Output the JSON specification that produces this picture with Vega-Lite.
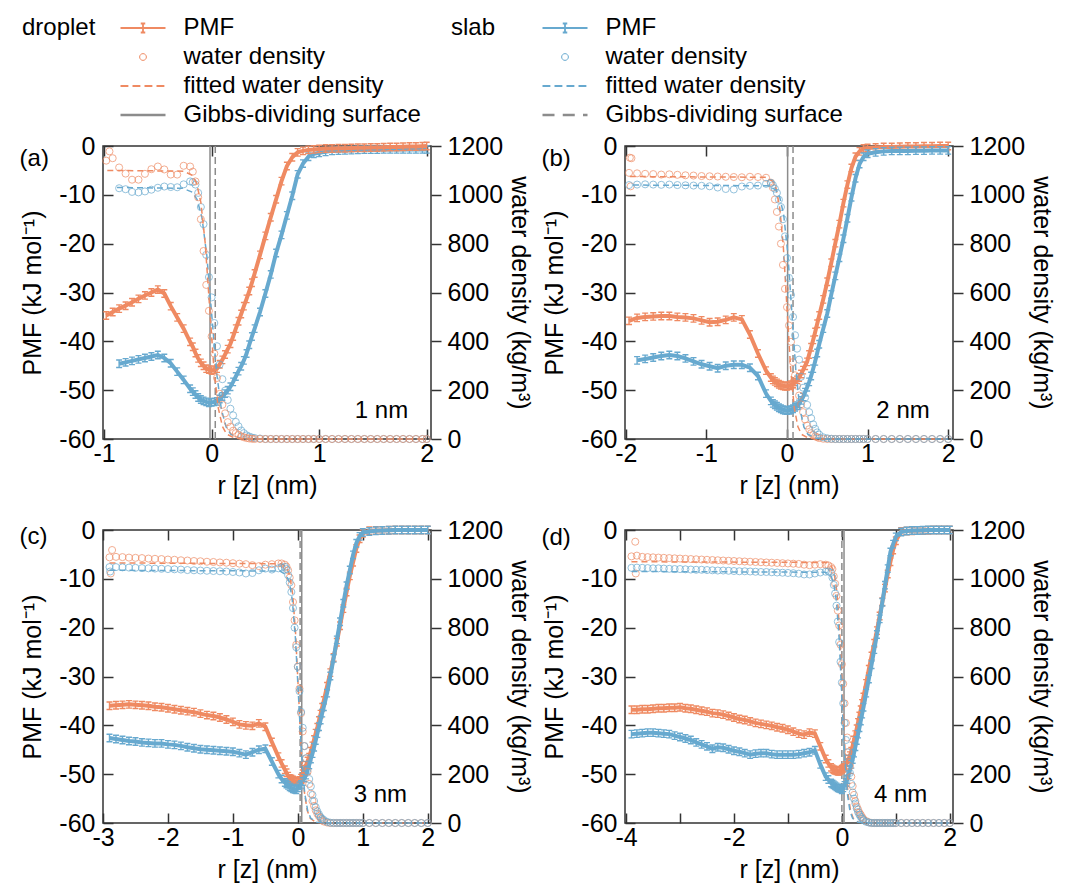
{
"$schema": "https://vega.github.io/schema/vega-lite/v6.json",
"background": "white",
"padding": {"left": 18, "top": 15, "right": 5, "bottom": 5},
"config": {
 "font": "Liberation Sans",
 "view": {"stroke": "#333333", "strokeWidth": 1.5},
 "axis": {"grid": false, "domain": false, "labelFontSize": 25, "titleFontSize": 25, "titleFontWeight": "normal", "labelColor": "#000", "titleColor": "#000", "tickColor": "#333", "tickWidth": 1.5, "labelFont": "Liberation Sans", "titleFont": "Liberation Sans"},
 "legend": {"labelFont": "Liberation Sans", "titleFont": "Liberation Sans", "labelColor": "#000", "titleColor": "#000"},
 "text": {"font": "Liberation Sans", "color": "#000"}
},
"datasets": {
 "gibbs": [{"p":"a","g":"d","x":-0.015},{"p":"a","g":"s","x":0.034},{"p":"b","g":"d","x":0.008},{"p":"b","g":"s","x":0.075},{"p":"c","g":"d","x":0.06},{"p":"c","g":"s","x":0.035},{"p":"d","g":"d","x":0.04},{"p":"d","g":"s","x":0.0}],
 "a": [
  {"x":-0.98,"dp":-34.7,"dd":1140},{"x":-0.95,"dd":1178},{"x":-0.92,"dp":-34.0,"dd":1150},
  {"x":-0.86,"dp":-33.3,"sp":-44.6,"dd":1112,"sd":1027},{"x":-0.8,"dp":-32.7,"sp":-44.3,"dd":1087,"sd":1023},
  {"x":-0.74,"dp":-32.0,"sp":-44.0,"dd":1062,"sd":1012},{"x":-0.68,"dp":-31.3,"sp":-43.7,"dd":1062,"sd":1010},
  {"x":-0.62,"dp":-30.6,"sp":-43.4,"dd":1086,"sd":1014},{"x":-0.56,"dp":-30.0,"sp":-43.1,"dd":1105,"sd":1021},
  {"x":-0.5,"dp":-29.4,"sp":-42.8,"dd":1116,"sd":1029},{"x":-0.44,"dp":-30.2,"sp":-43.4,"dd":1104,"sd":1034},
  {"x":-0.38,"dp":-32.8,"sp":-44.5,"dd":1083,"sd":1032},{"x":-0.32,"dp":-35.1,"sp":-46.2,"dd":1083,"sd":1031},
  {"x":-0.26,"dp":-37.4,"sp":-47.9,"dd":1119,"sd":1043},{"x":-0.2,"dp":-40.1,"sp":-49.7,"dd":1116,"sd":1055},
  {"x":-0.175,"dp":-41.1,"sp":-50.3,"dd":1095,"sd":1052},{"x":-0.15,"dp":-42.4,"sp":-50.9,"dd":1055,"sd":1042},
  {"x":-0.125,"dp":-43.5,"sp":-51.5,"dd":990,"sd":1008},{"x":-0.1,"dp":-44.4,"sp":-51.9,"dd":900,"sd":950},
  {"x":-0.075,"dp":-45.0,"sp":-52.2,"dd":770,"sd":880},{"x":-0.05,"dp":-45.6,"sp":-52.4,"dd":631,"sd":754},
  {"x":-0.025,"dp":-45.8,"sp":-52.6,"dd":525,"sd":663},{"x":0,"dp":-46.0,"sp":-52.5,"dd":420,"sd":580},
  {"x":0.025,"dp":-45.8,"sp":-52.4,"dd":350,"sd":475},{"x":0.05,"dp":-45.6,"sp":-52.3,"dd":250,"sd":380},
  {"x":0.075,"dp":-44.7,"sp":-51.8,"dd":185,"sd":305},{"x":0.1,"dp":-43.8,"sp":-51.3,"dd":140,"sd":245},
  {"x":0.125,"dp":-42.7,"sp":-50.7,"dd":105,"sd":198},{"x":0.15,"dp":-41.6,"sp":-50.0,"dd":69,"sd":160},
  {"x":0.175,"dp":-40.5,"sp":-49.3,"dd":50,"sd":124},{"x":0.2,"dp":-39.0,"sp":-48.3,"dd":34,"sd":97},
  {"x":0.225,"dp":-37.4,"sp":-47.2,"dd":24,"sd":70},{"x":0.25,"dp":-35.9,"sp":-46.1,"dd":17,"sd":52},
  {"x":0.275,"dp":-34.4,"sp":-45.1,"dd":11,"sd":35},{"x":0.3,"dp":-32.8,"sp":-43.9,"dd":7,"sd":24},
  {"x":0.325,"dp":-31.3,"sp":-42.5,"dd":4,"sd":15},{"x":0.35,"dp":-29.7,"sp":-40.7,"dd":2,"sd":10},
  {"x":0.375,"dp":-28.0,"sp":-39.0,"dd":1,"sd":6},{"x":0.4,"dp":-26.1,"sp":-37.4,"dd":0,"sd":4},
  {"x":0.45,"dp":-22.3,"sp":-34.0,"dd":0,"sd":2},{"x":0.5,"dp":-18.4,"sp":-30.2,"dd":0,"sd":0},
  {"x":0.55,"dp":-14.6,"sp":-26.3,"dd":0,"sd":0},{"x":0.6,"dp":-10.9,"sp":-21.9,"dd":0,"sd":0},
  {"x":0.65,"dp":-7.2,"sp":-18.2,"dd":0,"sd":0},{"x":0.7,"dp":-4.1,"sp":-14.2,"dd":0,"sd":0},
  {"x":0.75,"dp":-2.3,"sp":-10.2,"dd":0,"sd":0},{"x":0.8,"dp":-1.3,"sp":-5.8,"dd":0,"sd":0},
  {"x":0.85,"dp":-1.0,"sp":-3.6,"dd":0,"sd":0},{"x":0.9,"dp":-0.8,"sp":-2.2,"dd":0,"sd":0},
  {"x":0.95,"dp":-0.7,"sp":-1.6,"dd":0,"sd":0},{"x":1.0,"dp":-0.6,"sp":-1.4,"dd":0,"sd":0},
  {"x":1.06,"dp":-0.5,"sp":-1.2,"dd":0,"sd":0},{"x":1.12,"dp":-0.5,"sp":-1.0,"dd":0,"sd":0},
  {"x":1.18,"dp":-0.45,"sp":-0.95,"dd":0,"sd":0},{"x":1.24,"dp":-0.45,"sp":-0.9,"dd":0,"sd":0},
  {"x":1.3,"dp":-0.4,"sp":-0.85,"dd":0,"sd":0},{"x":1.36,"dp":-0.35,"sp":-0.8,"dd":0,"sd":0},
  {"x":1.42,"dp":-0.35,"sp":-0.75,"dd":0,"sd":0},{"x":1.48,"dp":-0.3,"sp":-0.75,"dd":0,"sd":0},
  {"x":1.54,"dp":-0.3,"sp":-0.75,"dd":0,"sd":0},{"x":1.6,"dp":-0.25,"sp":-0.7,"dd":0,"sd":0},
  {"x":1.66,"dp":-0.2,"sp":-0.7,"dd":0,"sd":0},{"x":1.72,"dp":-0.2,"sp":-0.7,"dd":0,"sd":0},
  {"x":1.78,"dp":-0.15,"sp":-0.7,"dd":0,"sd":0},{"x":1.84,"dp":-0.1,"sp":-0.7,"dd":0,"sd":0},
  {"x":1.9,"dp":-0.1,"sp":-0.7,"dd":0,"sd":0},{"x":1.96,"dp":-0.05,"sp":-0.7,"dd":0,"sd":0},
  {"x":2.0,"dp":0,"sp":-0.7,"dd":0,"sd":0}
 ],
 "b": [
  {"x":-1.96,"dp":-35.8,"dd":1090,"sd":1040},{"x":-1.95,"dd":1152},{"x":-1.94,"dd":1035},{"x":-1.93,"dd":1150},
  {"x":-1.86,"dp":-35.2,"sp":-43.9,"dd":1088,"sd":1042},{"x":-1.76,"dp":-35.0,"sp":-43.6,"dd":1086,"sd":1043},
  {"x":-1.66,"dp":-34.9,"sp":-43.3,"dd":1085,"sd":1042},{"x":-1.56,"dp":-34.8,"sp":-43.0,"dd":1083,"sd":1041},
  {"x":-1.46,"dp":-34.8,"sp":-42.8,"dd":1084,"sd":1042},{"x":-1.36,"dp":-35.0,"sp":-43.0,"dd":1082,"sd":1040},
  {"x":-1.26,"dp":-35.1,"sp":-43.5,"dd":1080,"sd":1039},{"x":-1.16,"dp":-35.3,"sp":-44.1,"dd":1079,"sd":1038},
  {"x":-1.06,"dp":-35.7,"sp":-44.7,"dd":1077,"sd":1037},{"x":-0.96,"dp":-36.1,"sp":-45.1,"dd":1076,"sd":1035},
  {"x":-0.86,"dp":-36.0,"sp":-45.5,"dd":1075,"sd":1030},{"x":-0.76,"dp":-35.6,"sp":-45.0,"dd":1074,"sd":1024},
  {"x":-0.66,"dp":-35.1,"sp":-44.8,"dd":1073,"sd":1022},{"x":-0.56,"dp":-35.5,"sp":-44.8,"dd":1072,"sd":1034},
  {"x":-0.46,"dp":-38.6,"sp":-45.4,"dd":1074,"sd":1037},{"x":-0.36,"dp":-42.5,"sp":-47.1,"dd":1073,"sd":1038},
  {"x":-0.26,"dp":-46.0,"sp":-50.7,"dd":1070,"sd":1045},{"x":-0.2,"dp":-47.4,"sp":-52.2,"dd":1050,"sd":1049},
  {"x":-0.175,"dp":-47.9,"sp":-52.7,"dd":1030,"sd":1040},{"x":-0.15,"dp":-48.2,"sp":-53.0,"dd":981,"sd":1025},
  {"x":-0.125,"dp":-48.5,"sp":-53.3,"dd":930,"sd":1008},{"x":-0.1,"dp":-48.8,"sp":-53.6,"dd":870,"sd":980},
  {"x":-0.075,"dp":-49.0,"sp":-53.8,"dd":800,"sd":950},{"x":-0.05,"dp":-49.1,"sp":-54.0,"dd":713,"sd":900},
  {"x":-0.025,"dp":-49.2,"sp":-54.1,"dd":615,"sd":830},{"x":0,"dp":-49.2,"sp":-54.2,"dd":540,"sd":741},
  {"x":0.025,"dp":-49.1,"sp":-54.1,"dd":465,"sd":660},{"x":0.05,"dp":-48.9,"sp":-54.0,"dd":398,"sd":590},
  {"x":0.075,"dp":-48.7,"sp":-53.8,"dd":315,"sd":500},{"x":0.1,"dp":-48.3,"sp":-53.5,"dd":261,"sd":425},
  {"x":0.125,"dp":-47.9,"sp":-53.2,"dd":218,"sd":370},{"x":0.15,"dp":-47.4,"sp":-52.8,"dd":178,"sd":325},
  {"x":0.175,"dp":-46.7,"sp":-52.1,"dd":142,"sd":255},{"x":0.2,"dp":-45.9,"sp":-51.4,"dd":110,"sd":210},
  {"x":0.225,"dp":-45.0,"sp":-50.4,"dd":80,"sd":170},{"x":0.25,"dp":-44.2,"sp":-49.4,"dd":55,"sd":140},
  {"x":0.275,"dp":-42.7,"sp":-48.3,"dd":40,"sd":110},{"x":0.3,"dp":-41.2,"sp":-47.1,"dd":24,"sd":85},
  {"x":0.325,"dp":-39.7,"sp":-45.6,"dd":16,"sd":60},{"x":0.35,"dp":-38.1,"sp":-44.1,"dd":11,"sd":42},
  {"x":0.375,"dp":-36.4,"sp":-42.4,"dd":7,"sd":27},{"x":0.4,"dp":-34.7,"sp":-40.6,"dd":4,"sd":18},
  {"x":0.45,"dp":-31.4,"sp":-37.4,"dd":1,"sd":7},{"x":0.5,"dp":-27.8,"sp":-34.3,"dd":0,"sd":3},
  {"x":0.55,"dp":-23.9,"sp":-30.4,"dd":0,"sd":1},{"x":0.6,"dp":-19.9,"sp":-26.6,"dd":0,"sd":0},
  {"x":0.65,"dp":-16.0,"sp":-22.9,"dd":0,"sd":0},{"x":0.7,"dp":-11.7,"sp":-19.0,"dd":0,"sd":0},
  {"x":0.75,"dp":-7.9,"sp":-14.8,"dd":0,"sd":0},{"x":0.8,"dp":-4.5,"sp":-10.5,"dd":0,"sd":0},
  {"x":0.85,"dp":-2.2,"sp":-6.6,"dd":0,"sd":0},{"x":0.9,"dp":-1.1,"sp":-3.7,"dd":0,"sd":0},
  {"x":0.95,"dp":-0.5,"sp":-2.2,"dd":0,"sd":0},{"x":1.0,"dp":-0.4,"sp":-1.6,"dd":0,"sd":0},
  {"x":1.1,"dp":-0.3,"sp":-1.3,"dd":0,"sd":0},{"x":1.2,"dp":-0.2,"sp":-1.1,"dd":0,"sd":0},
  {"x":1.3,"dp":-0.2,"sp":-1.0,"dd":0,"sd":0},{"x":1.4,"dp":-0.15,"sp":-1.0,"dd":0,"sd":0},
  {"x":1.5,"dp":-0.1,"sp":-1.0,"dd":0,"sd":0},{"x":1.6,"dp":-0.1,"sp":-0.95,"dd":0,"sd":0},
  {"x":1.7,"dp":-0.05,"sp":-0.95,"dd":0,"sd":0},{"x":1.8,"dp":-0.05,"sp":-0.9,"dd":0,"sd":0},
  {"x":1.9,"dp":0,"sp":-0.9,"dd":0,"sd":0},{"x":2.0,"dp":0,"sp":-0.9,"dd":0,"sd":0}
 ],
 "c": [
  {"x":-2.9,"dp":-36.0,"sp":-42.6,"dd":1088,"sd":1048},{"x":-2.89,"sd":1030},{"x":-2.88,"dd":1022},{"x":-2.86,"dd":1118},
  {"x":-2.8,"dp":-35.9,"sp":-42.8,"dd":1090,"sd":1048},{"x":-2.7,"dp":-35.8,"sp":-43.0,"dd":1089,"sd":1047},
  {"x":-2.6,"dp":-35.7,"sp":-43.2,"dd":1087,"sd":1046},{"x":-2.5,"dp":-35.8,"sp":-43.3,"dd":1086,"sd":1045},
  {"x":-2.4,"dp":-35.9,"sp":-43.5,"dd":1085,"sd":1044},{"x":-2.3,"dp":-36.0,"sp":-43.6,"dd":1083,"sd":1043},
  {"x":-2.2,"dp":-36.2,"sp":-43.7,"dd":1082,"sd":1042},{"x":-2.1,"dp":-36.3,"sp":-43.7,"dd":1081,"sd":1041},
  {"x":-2.0,"dp":-36.5,"sp":-43.9,"dd":1079,"sd":1040},{"x":-1.9,"dp":-36.7,"sp":-44.0,"dd":1078,"sd":1039},
  {"x":-1.8,"dp":-36.9,"sp":-44.2,"dd":1076,"sd":1038},{"x":-1.7,"dp":-37.1,"sp":-44.5,"dd":1075,"sd":1036},
  {"x":-1.6,"dp":-37.3,"sp":-44.7,"dd":1073,"sd":1035},{"x":-1.5,"dp":-37.6,"sp":-44.9,"dd":1072,"sd":1034},
  {"x":-1.4,"dp":-37.9,"sp":-45.0,"dd":1070,"sd":1033},{"x":-1.3,"dp":-38.1,"sp":-45.1,"dd":1069,"sd":1032},
  {"x":-1.2,"dp":-38.4,"sp":-45.2,"dd":1067,"sd":1031},{"x":-1.1,"dp":-38.8,"sp":-45.3,"dd":1066,"sd":1030},
  {"x":-1.0,"dp":-39.3,"sp":-45.4,"dd":1064,"sd":1028},{"x":-0.9,"dp":-39.8,"sp":-45.7,"dd":1062,"sd":1026},
  {"x":-0.8,"dp":-40.0,"sp":-46.0,"dd":1060,"sd":1022},{"x":-0.7,"dp":-40.1,"sp":-45.5,"dd":1056,"sd":1024},
  {"x":-0.6,"dp":-39.6,"sp":-45.0,"dd":1052,"sd":1035},{"x":-0.5,"dp":-40.3,"sp":-44.8,"dd":1058,"sd":1042},
  {"x":-0.4,"dp":-43.4,"sp":-47.4,"dd":1060,"sd":1038},{"x":-0.3,"dp":-46.4,"sp":-50.0,"dd":1063,"sd":1043},
  {"x":-0.25,"dp":-47.8,"sp":-51.0,"dd":1063,"sd":1047},{"x":-0.2,"dp":-49.1,"sp":-51.7,"dd":1058,"sd":1049},
  {"x":-0.175,"dp":-49.7,"sp":-52.0,"dd":1050,"sd":1040},{"x":-0.15,"dp":-50.4,"sp":-52.3,"dd":1035,"sd":1015},
  {"x":-0.125,"dp":-50.9,"sp":-52.6,"dd":1005,"sd":985},{"x":-0.1,"dp":-51.0,"sp":-52.8,"dd":974,"sd":946},
  {"x":-0.075,"dp":-51.2,"sp":-53.0,"dd":905,"sd":880},{"x":-0.05,"dp":-51.4,"sp":-53.1,"dd":830,"sd":800},
  {"x":-0.025,"dp":-51.6,"sp":-53.2,"dd":730,"sd":720},{"x":0,"dp":-51.5,"sp":-52.8,"dd":640,"sd":640},
  {"x":0.025,"dp":-51.3,"sp":-52.4,"dd":550,"sd":540},{"x":0.05,"dp":-50.8,"sp":-52.1,"dd":450,"sd":455},
  {"x":0.075,"dp":-49.9,"sp":-51.5,"dd":375,"sd":390},{"x":0.1,"dp":-49.0,"sp":-50.8,"dd":315,"sd":315},
  {"x":0.125,"dp":-48.2,"sp":-50.2,"dd":265,"sd":265},{"x":0.15,"dp":-47.3,"sp":-49.2,"dd":210,"sd":220},
  {"x":0.175,"dp":-46.5,"sp":-48.1,"dd":160,"sd":180},{"x":0.2,"dp":-45.3,"sp":-46.9,"dd":120,"sd":150},
  {"x":0.225,"dp":-44.2,"sp":-45.8,"dd":90,"sd":115},{"x":0.25,"dp":-42.9,"sp":-44.5,"dd":70,"sd":90},
  {"x":0.275,"dp":-41.6,"sp":-43.1,"dd":52,"sd":65},{"x":0.3,"dp":-40.4,"sp":-41.7,"dd":38,"sd":48},
  {"x":0.325,"dp":-39.0,"sp":-40.3,"dd":28,"sd":35},{"x":0.35,"dp":-37.7,"sp":-38.9,"dd":20,"sd":24},
  {"x":0.375,"dp":-36.3,"sp":-37.5,"dd":11,"sd":17},{"x":0.4,"dp":-34.9,"sp":-36.2,"dd":6,"sd":12},
  {"x":0.45,"dp":-32.0,"sp":-33.4,"dd":2,"sd":5},{"x":0.5,"dp":-29.2,"sp":-29.9,"dd":0,"sd":1},
  {"x":0.55,"dp":-26.1,"sp":-26.3,"dd":0,"sd":0},{"x":0.6,"dp":-23.0,"sp":-22.5,"dd":0,"sd":0},
  {"x":0.65,"dp":-19.6,"sp":-18.8,"dd":0,"sd":0},{"x":0.7,"dp":-16.1,"sp":-15.0,"dd":0,"sd":0},
  {"x":0.75,"dp":-12.7,"sp":-11.4,"dd":0,"sd":0},{"x":0.8,"dp":-9.4,"sp":-8.2,"dd":0,"sd":0},
  {"x":0.85,"dp":-6.6,"sp":-5.1,"dd":0,"sd":0},{"x":0.9,"dp":-3.8,"sp":-2.7,"dd":0,"sd":0},
  {"x":0.95,"dp":-1.8,"sp":-1.3,"dd":0,"sd":0},{"x":1.0,"dp":-0.7,"sp":-0.5,"dd":0,"sd":0},
  {"x":1.1,"dp":-0.15,"sp":-0.3,"dd":0,"sd":0},{"x":1.2,"dp":-0.1,"sp":-0.15,"dd":0,"sd":0},
  {"x":1.3,"dp":-0.1,"sp":-0.1,"dd":0,"sd":0},{"x":1.4,"dp":-0.05,"sp":-0.05,"dd":0,"sd":0},
  {"x":1.5,"dp":0,"sp":0,"dd":0,"sd":0},{"x":1.6,"dp":0,"sp":0,"dd":0,"sd":0},
  {"x":1.7,"dp":0,"sp":0,"dd":0,"sd":0},{"x":1.8,"dp":0,"sp":0,"dd":0,"sd":0},
  {"x":1.9,"dp":0,"sp":0,"dd":0,"sd":0},{"x":2.0,"dp":0,"sp":0,"dd":0,"sd":0}
 ],
 "d": [
  {"x":-3.9,"dp":-36.8,"sp":-41.8,"dd":1092,"sd":1045},{"x":-3.83,"dd":1152},{"x":-3.82,"dd":1022},
  {"x":-3.8,"dp":-36.8,"sp":-41.7,"dd":1095,"sd":1046},{"x":-3.7,"dp":-36.7,"sp":-41.6,"dd":1090,"sd":1045},
  {"x":-3.6,"dp":-36.7,"sp":-41.5,"dd":1089,"sd":1044},{"x":-3.5,"dp":-36.6,"sp":-41.5,"dd":1088,"sd":1043},
  {"x":-3.4,"dp":-36.5,"sp":-41.6,"dd":1087,"sd":1043},{"x":-3.3,"dp":-36.5,"sp":-41.7,"dd":1086,"sd":1042},
  {"x":-3.2,"dp":-36.4,"sp":-41.8,"dd":1085,"sd":1041},{"x":-3.1,"dp":-36.4,"sp":-42.1,"dd":1084,"sd":1040},
  {"x":-3.0,"dp":-36.3,"sp":-42.4,"dd":1083,"sd":1040},{"x":-2.9,"dp":-36.5,"sp":-42.7,"dd":1082,"sd":1039},
  {"x":-2.8,"dp":-36.6,"sp":-43.0,"dd":1081,"sd":1038},{"x":-2.7,"dp":-36.8,"sp":-43.5,"dd":1080,"sd":1037},
  {"x":-2.6,"dp":-37.0,"sp":-43.9,"dd":1079,"sd":1037},{"x":-2.5,"dp":-37.2,"sp":-44.3,"dd":1078,"sd":1036},
  {"x":-2.4,"dp":-37.5,"sp":-44.8,"dd":1077,"sd":1035},{"x":-2.3,"dp":-37.6,"sp":-44.5,"dd":1076,"sd":1034},
  {"x":-2.2,"dp":-37.8,"sp":-44.6,"dd":1075,"sd":1034},{"x":-2.1,"dp":-38.1,"sp":-44.9,"dd":1074,"sd":1033},
  {"x":-2.0,"dp":-38.4,"sp":-45.2,"dd":1073,"sd":1032},{"x":-1.9,"dp":-38.7,"sp":-45.4,"dd":1072,"sd":1031},
  {"x":-1.8,"dp":-38.9,"sp":-45.7,"dd":1071,"sd":1031},{"x":-1.7,"dp":-39.2,"sp":-46.0,"dd":1070,"sd":1030},
  {"x":-1.6,"dp":-39.5,"sp":-45.8,"dd":1069,"sd":1029},{"x":-1.5,"dp":-39.7,"sp":-45.7,"dd":1068,"sd":1028},
  {"x":-1.4,"dp":-39.9,"sp":-45.7,"dd":1067,"sd":1028},{"x":-1.3,"dp":-40.1,"sp":-45.9,"dd":1066,"sd":1027},
  {"x":-1.2,"dp":-40.4,"sp":-46.0,"dd":1065,"sd":1026},{"x":-1.1,"dp":-40.6,"sp":-46.0,"dd":1064,"sd":1025},
  {"x":-1.0,"dp":-40.9,"sp":-46.0,"dd":1063,"sd":1024},{"x":-0.9,"dp":-41.3,"sp":-46.0,"dd":1062,"sd":1023},
  {"x":-0.8,"dp":-41.7,"sp":-45.9,"dd":1061,"sd":1021},{"x":-0.7,"dp":-41.9,"sp":-45.7,"dd":1058,"sd":1018},
  {"x":-0.6,"dp":-41.5,"sp":-45.5,"dd":1056,"sd":1018},{"x":-0.5,"dp":-41.7,"sp":-45.1,"dd":1058,"sd":1022},
  {"x":-0.4,"dp":-44.3,"sp":-48.0,"dd":1060,"sd":1026},{"x":-0.3,"dp":-46.9,"sp":-50.5,"dd":1058,"sd":1029},
  {"x":-0.25,"dp":-47.8,"sp":-51.1,"dd":1055,"sd":1030},{"x":-0.2,"dp":-48.6,"sp":-51.8,"dd":1048,"sd":1025},
  {"x":-0.175,"dp":-48.9,"sp":-52.0,"dd":1040,"sd":1005},{"x":-0.15,"dp":-49.1,"sp":-52.2,"dd":1010,"sd":975},
  {"x":-0.125,"dp":-49.2,"sp":-52.4,"dd":980,"sd":940},{"x":-0.1,"dp":-49.3,"sp":-52.6,"dd":930,"sd":890},
  {"x":-0.075,"dp":-49.4,"sp":-52.8,"dd":870,"sd":825},{"x":-0.05,"dp":-49.4,"sp":-52.9,"dd":809,"sd":741},
  {"x":-0.025,"dp":-49.2,"sp":-53.0,"dd":730,"sd":660},{"x":0,"dp":-49.0,"sp":-53.2,"dd":650,"sd":575},
  {"x":0.025,"dp":-48.8,"sp":-52.8,"dd":570,"sd":490},{"x":0.05,"dp":-48.6,"sp":-52.3,"dd":490,"sd":410},
  {"x":0.075,"dp":-48.2,"sp":-51.7,"dd":410,"sd":340},{"x":0.1,"dp":-47.6,"sp":-51.1,"dd":350,"sd":290},
  {"x":0.125,"dp":-46.9,"sp":-50.1,"dd":290,"sd":250},{"x":0.15,"dp":-46.2,"sp":-49.1,"dd":233,"sd":205},
  {"x":0.175,"dp":-45.3,"sp":-48.0,"dd":190,"sd":160},{"x":0.2,"dp":-44.2,"sp":-47.0,"dd":151,"sd":125},
  {"x":0.225,"dp":-43.0,"sp":-45.7,"dd":115,"sd":100},{"x":0.25,"dp":-41.9,"sp":-44.4,"dd":90,"sd":80},
  {"x":0.275,"dp":-40.7,"sp":-43.1,"dd":68,"sd":60},{"x":0.3,"dp":-39.4,"sp":-41.8,"dd":55,"sd":45},
  {"x":0.325,"dp":-38.1,"sp":-40.5,"dd":42,"sd":34},{"x":0.35,"dp":-36.8,"sp":-39.1,"dd":34,"sd":25},
  {"x":0.375,"dp":-35.5,"sp":-37.7,"dd":24,"sd":18},{"x":0.4,"dp":-34.2,"sp":-36.3,"dd":16,"sd":11},
  {"x":0.45,"dp":-31.4,"sp":-33.4,"dd":8,"sd":5},{"x":0.5,"dp":-28.5,"sp":-30.5,"dd":3,"sd":2},
  {"x":0.55,"dp":-25.8,"sp":-27.6,"dd":0,"sd":0},{"x":0.6,"dp":-23.2,"sp":-24.5,"dd":0,"sd":0},
  {"x":0.65,"dp":-20.6,"sp":-21.4,"dd":0,"sd":0},{"x":0.7,"dp":-17.6,"sp":-18.2,"dd":0,"sd":0},
  {"x":0.75,"dp":-14.7,"sp":-14.8,"dd":0,"sd":0},{"x":0.8,"dp":-11.9,"sp":-11.3,"dd":0,"sd":0},
  {"x":0.85,"dp":-9.0,"sp":-7.9,"dd":0,"sd":0},{"x":0.9,"dp":-6.5,"sp":-4.5,"dd":0,"sd":0},
  {"x":0.95,"dp":-4.1,"sp":-2.9,"dd":0,"sd":0},{"x":1.0,"dp":-2.2,"sp":-1.4,"dd":0,"sd":0},
  {"x":1.1,"dp":-0.3,"sp":-0.4,"dd":0,"sd":0},{"x":1.2,"dp":-0.2,"sp":-0.2,"dd":0,"sd":0},
  {"x":1.3,"dp":-0.15,"sp":-0.1,"dd":0,"sd":0},{"x":1.4,"dp":-0.1,"sp":-0.1,"dd":0,"sd":0},
  {"x":1.5,"dp":-0.1,"sp":-0.05,"dd":0,"sd":0},{"x":1.6,"dp":-0.05,"sp":0,"dd":0,"sd":0},
  {"x":1.7,"dp":0,"sp":0,"dd":0,"sd":0},{"x":1.8,"dp":0,"sp":0,"dd":0,"sd":0},
  {"x":1.9,"dp":0,"sp":0,"dd":0,"sd":0},{"x":2.0,"dp":0,"sp":0,"dd":0,"sd":0}
 ],
 "fa": [
  {"x":-0.97,"g":"d","f":1100},{"x":-0.26,"g":"d","f":1097},{"x":-0.18,"g":"d","f":1080},{"x":-0.14,"g":"d","f":1048},{"x":-0.1,"g":"d","f":969},{"x":-0.06,"g":"d","f":804},{"x":-0.02,"g":"d","f":550},{"x":0.02,"g":"d","f":296},{"x":0.06,"g":"d","f":131},{"x":0.1,"g":"d","f":52},{"x":0.14,"g":"d","f":20},{"x":0.22,"g":"d","f":3},{"x":0.4,"g":"d","f":0},{"x":2.0,"g":"d","f":0},
  {"x":-0.88,"g":"s","f":1030},{"x":-0.27,"g":"s","f":1027},{"x":-0.18,"g":"s","f":1011},{"x":-0.135,"g":"s","f":981},{"x":-0.09,"g":"s","f":907},{"x":-0.045,"g":"s","f":753},{"x":0,"g":"s","f":515},{"x":0.045,"g":"s","f":277},{"x":0.09,"g":"s","f":123},{"x":0.135,"g":"s","f":49},{"x":0.18,"g":"s","f":19},{"x":0.27,"g":"s","f":3},{"x":0.45,"g":"s","f":0},{"x":2.0,"g":"s","f":0}
 ],
 "fb": [
  {"x":-1.95,"g":"d","f":1075},{"x":-0.27,"g":"d","f":1072},{"x":-0.18,"g":"d","f":1056},{"x":-0.135,"g":"d","f":1024},{"x":-0.09,"g":"d","f":947},{"x":-0.045,"g":"d","f":786},{"x":0,"g":"d","f":538},{"x":0.045,"g":"d","f":289},{"x":0.09,"g":"d","f":128},{"x":0.135,"g":"d","f":51},{"x":0.18,"g":"d","f":19},{"x":0.27,"g":"d","f":3},{"x":0.45,"g":"d","f":0},{"x":2.0,"g":"d","f":0},
  {"x":-1.91,"g":"s","f":1040},{"x":-0.24,"g":"s","f":1037},{"x":-0.14,"g":"s","f":1021},{"x":-0.09,"g":"s","f":991},{"x":-0.04,"g":"s","f":916},{"x":0.01,"g":"s","f":760},{"x":0.06,"g":"s","f":520},{"x":0.11,"g":"s","f":280},{"x":0.16,"g":"s","f":124},{"x":0.21,"g":"s","f":49},{"x":0.26,"g":"s","f":19},{"x":0.36,"g":"s","f":3},{"x":0.5,"g":"s","f":0},{"x":2.0,"g":"s","f":0}
 ],
 "fc": [
  {"x":-2.9,"g":"d","f":1065},{"x":-0.26,"g":"d","f":1062},{"x":-0.17,"g":"d","f":1046},{"x":-0.125,"g":"d","f":1014},{"x":-0.08,"g":"d","f":938},{"x":-0.035,"g":"d","f":778},{"x":0.01,"g":"d","f":532},{"x":0.055,"g":"d","f":286},{"x":0.1,"g":"d","f":127},{"x":0.145,"g":"d","f":51},{"x":0.19,"g":"d","f":19},{"x":0.28,"g":"d","f":3},{"x":0.45,"g":"d","f":0},{"x":2.0,"g":"d","f":0},
  {"x":-2.9,"g":"s","f":1035},{"x":-0.275,"g":"s","f":1032},{"x":-0.18,"g":"s","f":1016},{"x":-0.13,"g":"s","f":986},{"x":-0.085,"g":"s","f":912},{"x":-0.0375,"g":"s","f":757},{"x":0.01,"g":"s","f":518},{"x":0.0575,"g":"s","f":278},{"x":0.105,"g":"s","f":123},{"x":0.1525,"g":"s","f":49},{"x":0.2,"g":"s","f":19},{"x":0.295,"g":"s","f":3},{"x":0.5,"g":"s","f":0},{"x":2.0,"g":"s","f":0}
 ],
 "fd": [
  {"x":-3.9,"g":"d","f":1070},{"x":-0.29,"g":"d","f":1067},{"x":-0.19,"g":"d","f":1051},{"x":-0.14,"g":"d","f":1019},{"x":-0.09,"g":"d","f":943},{"x":-0.04,"g":"d","f":782},{"x":0.01,"g":"d","f":535},{"x":0.06,"g":"d","f":288},{"x":0.11,"g":"d","f":127},{"x":0.16,"g":"d","f":51},{"x":0.21,"g":"d","f":19},{"x":0.31,"g":"d","f":3},{"x":0.5,"g":"d","f":0},{"x":2.0,"g":"d","f":0},
  {"x":-3.9,"g":"s","f":1030},{"x":-0.3,"g":"s","f":1027},{"x":-0.2,"g":"s","f":1011},{"x":-0.15,"g":"s","f":981},{"x":-0.1,"g":"s","f":907},{"x":-0.05,"g":"s","f":753},{"x":0,"g":"s","f":515},{"x":0.05,"g":"s","f":277},{"x":0.1,"g":"s","f":123},{"x":0.15,"g":"s","f":49},{"x":0.2,"g":"s","f":19},{"x":0.3,"g":"s","f":3},{"x":0.5,"g":"s","f":0},{"x":2.0,"g":"s","f":0}
 ]
},
"columns": 2,
"spacing": {"row": 91, "column": 194},
"bounds": "flush",
"resolve": {"scale": {"stroke": "independent"}, "legend": {"stroke": "independent"}},
"concat": [
  {
   "width": 328, "height": 293,
   "resolve": {"scale": {"y": "independent"}, "axis": {"x": "independent", "y": "independent"}},
   "layer": [
    {"encoding": {"x": {"field": "x", "type": "quantitative", "scale": {"domain": [-1.01, 2.04], "nice": false, "zero": false}, "axis": {"orient": "bottom", "values": [-1,0,1,2], "title": "r [z] (nm)", "tickSize": -10, "labelPadding": 12, "titlePadding": 7, "labelExpr": "'' + datum.value", "labelFlush": false, "labelOverlap": false}}},
     "layer": [
      {"data": {"name": "gibbs"}, "transform": [{"filter": "datum.p == 'a' && datum.g == 'd'"}], "mark": {"type": "rule", "strokeWidth": 1.5},
       "encoding": {"stroke": {"datum": "Gibbs-dividing surface", "type": "nominal",
         "scale": {"domain": ["PMF", "water density", "fitted water density", "Gibbs-dividing surface"], "range": ["#EF8A62", "#EF8A62", "#EF8A62", "#8c8c8c"]},
         "legend": {"title": "droplet", "orient": "none", "legendX": -81, "legendY": -130, "titleOrient": "left", "titleAnchor": "start", "titleBaseline": "top", "titlePadding": 35, "symbolSize": 225, "labelOffset": 28.5, "rowPadding": 5, "labelFontSize": 24, "titleFontSize": 24, "titleFontWeight": "normal", "labelLimit": 400,
           "encode": {"symbols": {"update": {
             "shape": {"signal": "datum.value === 'PMF' ? 'M-3,0H3M0,-0.6V0.6M-0.3,-0.6H0.3M-0.3,0.6H0.3' : datum.value === 'water density' ? 'M0.45,0A0.45,0.45,0,1,1,-0.45,0A0.45,0.45,0,1,1,0.45,0Z' : datum.value === 'fitted water density' ? 'M-3,0H-1.95M-1.4,0H-0.35M0.2,0H1.25M1.8,0H2.85' : 'M-3,0H3'"},
             "strokeWidth": {"signal": "datum.value === 'Gibbs-dividing surface' ? 2.5 : datum.value === 'water density' ? 1 : 1.8"},
             "strokeDash": {"value": []},
             "fill": {"value": "transparent"}}}}}}}},
      {"data": {"name": "gibbs"}, "transform": [{"filter": "datum.p == 'a' && datum.g == 's'"}], "mark": {"type": "rule", "strokeWidth": 1.5, "strokeDash": [7, 4]}, "encoding": {"stroke": {"value": "#8c8c8c"}}},
      {"data": {"name": "a"}, "transform": [{"filter": "isValid(datum.sp)"}],
       "mark": {"type": "line", "strokeWidth": 4, "point": {"shape": "M-0.8,-1H0.8M0,-1V1M-0.8,1H0.8", "size": 56, "filled": false, "strokeWidth": 1.4}},
       "encoding": {"y": {"field": "sp", "type": "quantitative", "scale": {"domain": [-60, 0], "nice": false, "zero": false}, "axis": {"orient": "left", "values": [-60,-50,-40,-30,-20,-10,0], "title": "PMF (kJ mol⁻¹)", "tickSize": -10, "labelPadding": 18, "titlePadding": 13, "labelExpr": "'' + datum.value", "labelFlush": false, "labelOverlap": false}}, "stroke": {"value": "#67A9CF"}}},
      {"data": {"name": "a"}, "transform": [{"filter": "isValid(datum.dp)"}],
       "mark": {"type": "line", "strokeWidth": 4, "point": {"shape": "M-0.8,-1H0.8M0,-1V1M-0.8,1H0.8", "size": 56, "filled": false, "strokeWidth": 1.4}},
       "encoding": {"y": {"field": "dp", "type": "quantitative", "title": "PMF (kJ mol⁻¹)"}, "stroke": {"datum": "PMF", "type": "nominal"}}}
     ]},
    {"encoding": {"x": {"field": "x", "type": "quantitative", "scale": {"domain": [-1.01, 2.04], "nice": false, "zero": false}, "axis": {"orient": "top", "values": [-1,0,1,2], "tickSize": -10, "labels": false, "title": null}}},
     "layer": [
      {"data": {"name": "a"}, "transform": [{"filter": "isValid(datum.sd)"}], "mark": {"type": "point", "shape": "circle", "filled": false, "size": 50, "strokeWidth": 1},
       "encoding": {"y": {"field": "sd", "type": "quantitative", "scale": {"domain": [0, 1200], "nice": false}, "axis": {"orient": "right", "values": [0,200,400,600,800,1000,1200], "title": "water density (kg/m³)", "tickSize": 10, "labelPadding": 6, "titlePadding": 4, "labelExpr": "'' + datum.value", "labelFlush": false, "labelOverlap": false}}, "stroke": {"value": "#67A9CF"}}},
      {"data": {"name": "fa"}, "transform": [{"filter": "datum.g == 's'"}], "mark": {"type": "line", "strokeDash": [6, 4], "strokeWidth": 1.5},
       "encoding": {"y": {"field": "f", "type": "quantitative", "title": "water density (kg/m³)"}, "stroke": {"value": "#67A9CF"}}},
      {"data": {"name": "a"}, "transform": [{"filter": "isValid(datum.dd)"}], "mark": {"type": "point", "shape": "circle", "filled": false, "size": 50, "strokeWidth": 1},
       "encoding": {"y": {"field": "dd", "type": "quantitative", "title": "water density (kg/m³)"}, "stroke": {"datum": "water density", "type": "nominal"}}},
      {"data": {"name": "fa"}, "transform": [{"filter": "datum.g == 'd'"}], "mark": {"type": "line", "strokeDash": [6, 4], "strokeWidth": 1.5},
       "encoding": {"y": {"field": "f", "type": "quantitative", "title": "water density (kg/m³)"}, "stroke": {"datum": "fitted water density", "type": "nominal"}}}
     ]},
    {"layer": [
      {"data": {"values": [{"t": "1 nm"}]}, "mark": {"type": "text", "fontSize": 24}, "encoding": {"x": {"datum": 1.58, "type": "quantitative", "axis": null}, "y": {"datum": -54.2, "type": "quantitative", "scale": {"domain": [-60, 0], "nice": false, "zero": false}, "axis": null}, "text": {"field": "t", "type": "nominal"}}},
      {"data": {"values": [{"t": "(a)"}]}, "mark": {"type": "text", "fontSize": 24, "align": "left", "baseline": "middle"}, "encoding": {"x": {"datum": -1.786, "type": "quantitative", "axis": null}, "y": {"datum": -2.66, "type": "quantitative", "axis": null}, "text": {"field": "t", "type": "nominal"}}}
    ]}
   ]
  },
  {
   "width": 328, "height": 293,
   "resolve": {"scale": {"y": "independent"}, "axis": {"x": "independent", "y": "independent"}},
   "layer": [
    {"encoding": {"x": {"field": "x", "type": "quantitative", "scale": {"domain": [-2.01, 2.06], "nice": false, "zero": false}, "axis": {"orient": "bottom", "values": [-2,-1,0,1,2], "title": "r [z] (nm)", "tickSize": -10, "labelPadding": 12, "titlePadding": 7, "labelExpr": "'' + datum.value", "labelFlush": false, "labelOverlap": false}}},
     "layer": [
      {"data": {"name": "gibbs"}, "transform": [{"filter": "datum.p == 'b' && datum.g == 'd'"}], "mark": {"type": "rule", "strokeWidth": 1.5}, "encoding": {"stroke": {"value": "#8c8c8c"}}},
      {"data": {"name": "gibbs"}, "transform": [{"filter": "datum.p == 'b' && datum.g == 's'"}], "mark": {"type": "rule", "strokeWidth": 1.5, "strokeDash": [7, 4]},
       "encoding": {"stroke": {"datum": "Gibbs-dividing surface", "type": "nominal",
         "scale": {"domain": ["PMF", "water density", "fitted water density", "Gibbs-dividing surface"], "range": ["#67A9CF", "#67A9CF", "#67A9CF", "#8c8c8c"]},
         "legend": {"title": "slab", "orient": "none", "legendX": -174, "legendY": -130, "titleOrient": "left", "titleAnchor": "start", "titleBaseline": "top", "titlePadding": 57, "symbolSize": 225, "labelOffset": 28.5, "rowPadding": 5, "labelFontSize": 24, "titleFontSize": 24, "titleFontWeight": "normal", "labelLimit": 400,
           "encode": {"symbols": {"update": {
             "shape": {"signal": "datum.value === 'PMF' ? 'M-3,0H3M0,-0.6V0.6M-0.3,-0.6H0.3M-0.3,0.6H0.3' : datum.value === 'water density' ? 'M0.45,0A0.45,0.45,0,1,1,-0.45,0A0.45,0.45,0,1,1,0.45,0Z' : datum.value === 'fitted water density' ? 'M-3,0H-1.95M-1.4,0H-0.35M0.2,0H1.25M1.8,0H2.85' : 'M-3,0H-1.4M-0.3,0H1.3M2.4,0H3'"},
             "strokeWidth": {"signal": "datum.value === 'Gibbs-dividing surface' ? 2.5 : datum.value === 'water density' ? 1 : 1.8"},
             "strokeDash": {"value": []},
             "fill": {"value": "transparent"}}}}}}}},
      {"data": {"name": "b"}, "transform": [{"filter": "isValid(datum.dp)"}],
       "mark": {"type": "line", "strokeWidth": 4, "point": {"shape": "M-0.8,-1H0.8M0,-1V1M-0.8,1H0.8", "size": 56, "filled": false, "strokeWidth": 1.4}},
       "encoding": {"y": {"field": "dp", "type": "quantitative", "scale": {"domain": [-60, 0], "nice": false, "zero": false}, "axis": {"orient": "left", "values": [-60,-50,-40,-30,-20,-10,0], "title": "PMF (kJ mol⁻¹)", "tickSize": -10, "labelPadding": 18, "titlePadding": 13, "labelExpr": "'' + datum.value", "labelFlush": false, "labelOverlap": false}}, "stroke": {"value": "#EF8A62"}}},
      {"data": {"name": "b"}, "transform": [{"filter": "isValid(datum.sp)"}],
       "mark": {"type": "line", "strokeWidth": 4, "point": {"shape": "M-0.8,-1H0.8M0,-1V1M-0.8,1H0.8", "size": 56, "filled": false, "strokeWidth": 1.4}},
       "encoding": {"y": {"field": "sp", "type": "quantitative", "title": "PMF (kJ mol⁻¹)"}, "stroke": {"datum": "PMF", "type": "nominal"}}}
     ]},
    {"encoding": {"x": {"field": "x", "type": "quantitative", "scale": {"domain": [-2.01, 2.06], "nice": false, "zero": false}, "axis": {"orient": "top", "values": [-2,-1,0,1,2], "tickSize": -10, "labels": false, "title": null}}},
     "layer": [
      {"data": {"name": "b"}, "transform": [{"filter": "isValid(datum.dd)"}], "mark": {"type": "point", "shape": "circle", "filled": false, "size": 50, "strokeWidth": 1},
       "encoding": {"y": {"field": "dd", "type": "quantitative", "scale": {"domain": [0, 1200], "nice": false}, "axis": {"orient": "right", "values": [0,200,400,600,800,1000,1200], "title": "water density (kg/m³)", "tickSize": 10, "labelPadding": 6, "titlePadding": 4, "labelExpr": "'' + datum.value", "labelFlush": false, "labelOverlap": false}}, "stroke": {"value": "#EF8A62"}}},
      {"data": {"name": "fb"}, "transform": [{"filter": "datum.g == 'd'"}], "mark": {"type": "line", "strokeDash": [6, 4], "strokeWidth": 1.5},
       "encoding": {"y": {"field": "f", "type": "quantitative", "title": "water density (kg/m³)"}, "stroke": {"value": "#EF8A62"}}},
      {"data": {"name": "b"}, "transform": [{"filter": "isValid(datum.sd)"}], "mark": {"type": "point", "shape": "circle", "filled": false, "size": 50, "strokeWidth": 1},
       "encoding": {"y": {"field": "sd", "type": "quantitative", "title": "water density (kg/m³)"}, "stroke": {"datum": "water density", "type": "nominal"}}},
      {"data": {"name": "fb"}, "transform": [{"filter": "datum.g == 's'"}], "mark": {"type": "line", "strokeDash": [6, 4], "strokeWidth": 1.5},
       "encoding": {"y": {"field": "f", "type": "quantitative", "title": "water density (kg/m³)"}, "stroke": {"datum": "fitted water density", "type": "nominal"}}}
     ]},
    {"layer": [
      {"data": {"values": [{"t": "2 nm"}]}, "mark": {"type": "text", "fontSize": 24}, "encoding": {"x": {"datum": 1.44, "type": "quantitative", "axis": null}, "y": {"datum": -54.2, "type": "quantitative", "scale": {"domain": [-60, 0], "nice": false, "zero": false}, "axis": null}, "text": {"field": "t", "type": "nominal"}}},
      {"data": {"values": [{"t": "(b)"}]}, "mark": {"type": "text", "fontSize": 24, "align": "left", "baseline": "middle"}, "encoding": {"x": {"datum": -3.046, "type": "quantitative", "axis": null}, "y": {"datum": -2.66, "type": "quantitative", "axis": null}, "text": {"field": "t", "type": "nominal"}}}
    ]}
   ]
  },
  {
   "width": 328, "height": 293,
   "resolve": {"scale": {"y": "independent"}, "axis": {"x": "independent", "y": "independent"}},
   "layer": [
    {"encoding": {"x": {"field": "x", "type": "quantitative", "scale": {"domain": [-3.0, 2.05], "nice": false, "zero": false}, "axis": {"orient": "bottom", "values": [-3,-2,-1,0,1,2], "title": "r [z] (nm)", "tickSize": -10, "labelPadding": 12, "titlePadding": 7, "labelExpr": "'' + datum.value", "labelFlush": false, "labelOverlap": false}}},
     "layer": [
      {"data": {"name": "gibbs"}, "transform": [{"filter": "datum.p == 'c' && datum.g == 's'"}], "mark": {"type": "rule", "strokeWidth": 1.5, "strokeDash": [7, 4]}, "encoding": {"stroke": {"value": "#8c8c8c"}}},
      {"data": {"name": "gibbs"}, "transform": [{"filter": "datum.p == 'c' && datum.g == 'd'"}], "mark": {"type": "rule", "strokeWidth": 1.5}, "encoding": {"stroke": {"value": "#8c8c8c"}}},
      {"data": {"name": "c"}, "transform": [{"filter": "isValid(datum.dp)"}],
       "mark": {"type": "line", "strokeWidth": 4, "point": {"shape": "M-0.8,-1H0.8M0,-1V1M-0.8,1H0.8", "size": 56, "filled": false, "strokeWidth": 1.4}},
       "encoding": {"y": {"field": "dp", "type": "quantitative", "scale": {"domain": [-60, 0], "nice": false, "zero": false}, "axis": {"orient": "left", "values": [-60,-50,-40,-30,-20,-10,0], "title": "PMF (kJ mol⁻¹)", "tickSize": -10, "labelPadding": 18, "titlePadding": 13, "labelExpr": "'' + datum.value", "labelFlush": false, "labelOverlap": false}}, "stroke": {"value": "#EF8A62"}}},
      {"data": {"name": "c"}, "transform": [{"filter": "isValid(datum.sp)"}],
       "mark": {"type": "line", "strokeWidth": 4, "point": {"shape": "M-0.8,-1H0.8M0,-1V1M-0.8,1H0.8", "size": 56, "filled": false, "strokeWidth": 1.4}},
       "encoding": {"y": {"field": "sp", "type": "quantitative", "title": "PMF (kJ mol⁻¹)"}, "stroke": {"value": "#67A9CF"}}}
     ]},
    {"encoding": {"x": {"field": "x", "type": "quantitative", "scale": {"domain": [-3.0, 2.05], "nice": false, "zero": false}, "axis": {"orient": "top", "values": [-3,-2,-1,0,1,2], "tickSize": -10, "labels": false, "title": null}}},
     "layer": [
      {"data": {"name": "c"}, "transform": [{"filter": "isValid(datum.dd)"}], "mark": {"type": "point", "shape": "circle", "filled": false, "size": 50, "strokeWidth": 1},
       "encoding": {"y": {"field": "dd", "type": "quantitative", "scale": {"domain": [0, 1200], "nice": false}, "axis": {"orient": "right", "values": [0,200,400,600,800,1000,1200], "title": "water density (kg/m³)", "tickSize": 10, "labelPadding": 6, "titlePadding": 4, "labelExpr": "'' + datum.value", "labelFlush": false, "labelOverlap": false}}, "stroke": {"value": "#EF8A62"}}},
      {"data": {"name": "fc"}, "transform": [{"filter": "datum.g == 'd'"}], "mark": {"type": "line", "strokeDash": [6, 4], "strokeWidth": 1.5},
       "encoding": {"y": {"field": "f", "type": "quantitative", "title": "water density (kg/m³)"}, "stroke": {"value": "#EF8A62"}}},
      {"data": {"name": "c"}, "transform": [{"filter": "isValid(datum.sd)"}], "mark": {"type": "point", "shape": "circle", "filled": false, "size": 50, "strokeWidth": 1},
       "encoding": {"y": {"field": "sd", "type": "quantitative", "title": "water density (kg/m³)"}, "stroke": {"value": "#67A9CF"}}},
      {"data": {"name": "fc"}, "transform": [{"filter": "datum.g == 's'"}], "mark": {"type": "line", "strokeDash": [6, 4], "strokeWidth": 1.5},
       "encoding": {"y": {"field": "f", "type": "quantitative", "title": "water density (kg/m³)"}, "stroke": {"value": "#67A9CF"}}}
     ]},
    {"layer": [
      {"data": {"values": [{"t": "3 nm"}]}, "mark": {"type": "text", "fontSize": 24}, "encoding": {"x": {"datum": 1.27, "type": "quantitative", "axis": null}, "y": {"datum": -54.2, "type": "quantitative", "scale": {"domain": [-60, 0], "nice": false, "zero": false}, "axis": null}, "text": {"field": "t", "type": "nominal"}}},
      {"data": {"values": [{"t": "(c)"}]}, "mark": {"type": "text", "fontSize": 24, "align": "left", "baseline": "middle"}, "encoding": {"x": {"datum": -4.286, "type": "quantitative", "axis": null}, "y": {"datum": -1.43, "type": "quantitative", "axis": null}, "text": {"field": "t", "type": "nominal"}}}
    ]}
   ]
  },
  {
   "width": 328, "height": 293,
   "resolve": {"scale": {"y": "independent"}, "axis": {"x": "independent", "y": "independent"}},
   "layer": [
    {"encoding": {"x": {"field": "x", "type": "quantitative", "scale": {"domain": [-4.02, 2.06], "nice": false, "zero": false}, "axis": {"orient": "bottom", "values": [-4,-3,-2,-1,0,1,2], "title": "r [z] (nm)", "tickSize": -10, "labelPadding": 12, "titlePadding": 7, "labelExpr": "datum.value % 2 == 0 ? '' + datum.value : ''", "labelFlush": false, "labelOverlap": false}}},
     "layer": [
      {"data": {"name": "gibbs"}, "transform": [{"filter": "datum.p == 'd' && datum.g == 'd'"}], "mark": {"type": "rule", "strokeWidth": 1.5}, "encoding": {"stroke": {"value": "#8c8c8c"}}},
      {"data": {"name": "gibbs"}, "transform": [{"filter": "datum.p == 'd' && datum.g == 's'"}], "mark": {"type": "rule", "strokeWidth": 1.5, "strokeDash": [7, 4]}, "encoding": {"stroke": {"value": "#8c8c8c"}}},
      {"data": {"name": "d"}, "transform": [{"filter": "isValid(datum.dp)"}],
       "mark": {"type": "line", "strokeWidth": 4, "point": {"shape": "M-0.8,-1H0.8M0,-1V1M-0.8,1H0.8", "size": 56, "filled": false, "strokeWidth": 1.4}},
       "encoding": {"y": {"field": "dp", "type": "quantitative", "scale": {"domain": [-60, 0], "nice": false, "zero": false}, "axis": {"orient": "left", "values": [-60,-50,-40,-30,-20,-10,0], "title": "PMF (kJ mol⁻¹)", "tickSize": -10, "labelPadding": 18, "titlePadding": 13, "labelExpr": "'' + datum.value", "labelFlush": false, "labelOverlap": false}}, "stroke": {"value": "#EF8A62"}}},
      {"data": {"name": "d"}, "transform": [{"filter": "isValid(datum.sp)"}],
       "mark": {"type": "line", "strokeWidth": 4, "point": {"shape": "M-0.8,-1H0.8M0,-1V1M-0.8,1H0.8", "size": 56, "filled": false, "strokeWidth": 1.4}},
       "encoding": {"y": {"field": "sp", "type": "quantitative", "title": "PMF (kJ mol⁻¹)"}, "stroke": {"value": "#67A9CF"}}}
     ]},
    {"encoding": {"x": {"field": "x", "type": "quantitative", "scale": {"domain": [-4.02, 2.06], "nice": false, "zero": false}, "axis": {"orient": "top", "values": [-4,-3,-2,-1,0,1,2], "tickSize": -10, "labels": false, "title": null}}},
     "layer": [
      {"data": {"name": "d"}, "transform": [{"filter": "isValid(datum.dd)"}], "mark": {"type": "point", "shape": "circle", "filled": false, "size": 50, "strokeWidth": 1},
       "encoding": {"y": {"field": "dd", "type": "quantitative", "scale": {"domain": [0, 1200], "nice": false}, "axis": {"orient": "right", "values": [0,200,400,600,800,1000,1200], "title": "water density (kg/m³)", "tickSize": 10, "labelPadding": 6, "titlePadding": 4, "labelExpr": "'' + datum.value", "labelFlush": false, "labelOverlap": false}}, "stroke": {"value": "#EF8A62"}}},
      {"data": {"name": "fd"}, "transform": [{"filter": "datum.g == 'd'"}], "mark": {"type": "line", "strokeDash": [6, 4], "strokeWidth": 1.5},
       "encoding": {"y": {"field": "f", "type": "quantitative", "title": "water density (kg/m³)"}, "stroke": {"value": "#EF8A62"}}},
      {"data": {"name": "d"}, "transform": [{"filter": "isValid(datum.sd)"}], "mark": {"type": "point", "shape": "circle", "filled": false, "size": 50, "strokeWidth": 1},
       "encoding": {"y": {"field": "sd", "type": "quantitative", "title": "water density (kg/m³)"}, "stroke": {"value": "#67A9CF"}}},
      {"data": {"name": "fd"}, "transform": [{"filter": "datum.g == 's'"}], "mark": {"type": "line", "strokeDash": [6, 4], "strokeWidth": 1.5},
       "encoding": {"y": {"field": "f", "type": "quantitative", "title": "water density (kg/m³)"}, "stroke": {"value": "#67A9CF"}}}
     ]},
    {"layer": [
      {"data": {"values": [{"t": "4 nm"}]}, "mark": {"type": "text", "fontSize": 24}, "encoding": {"x": {"datum": 1.09, "type": "quantitative", "axis": null}, "y": {"datum": -54.2, "type": "quantitative", "scale": {"domain": [-60, 0], "nice": false, "zero": false}, "axis": null}, "text": {"field": "t", "type": "nominal"}}},
      {"data": {"values": [{"t": "(d)"}]}, "mark": {"type": "text", "fontSize": 24, "align": "left", "baseline": "middle"}, "encoding": {"x": {"datum": -5.568, "type": "quantitative", "axis": null}, "y": {"datum": -1.6, "type": "quantitative", "axis": null}, "text": {"field": "t", "type": "nominal"}}}
    ]}
   ]
  }
]
}
